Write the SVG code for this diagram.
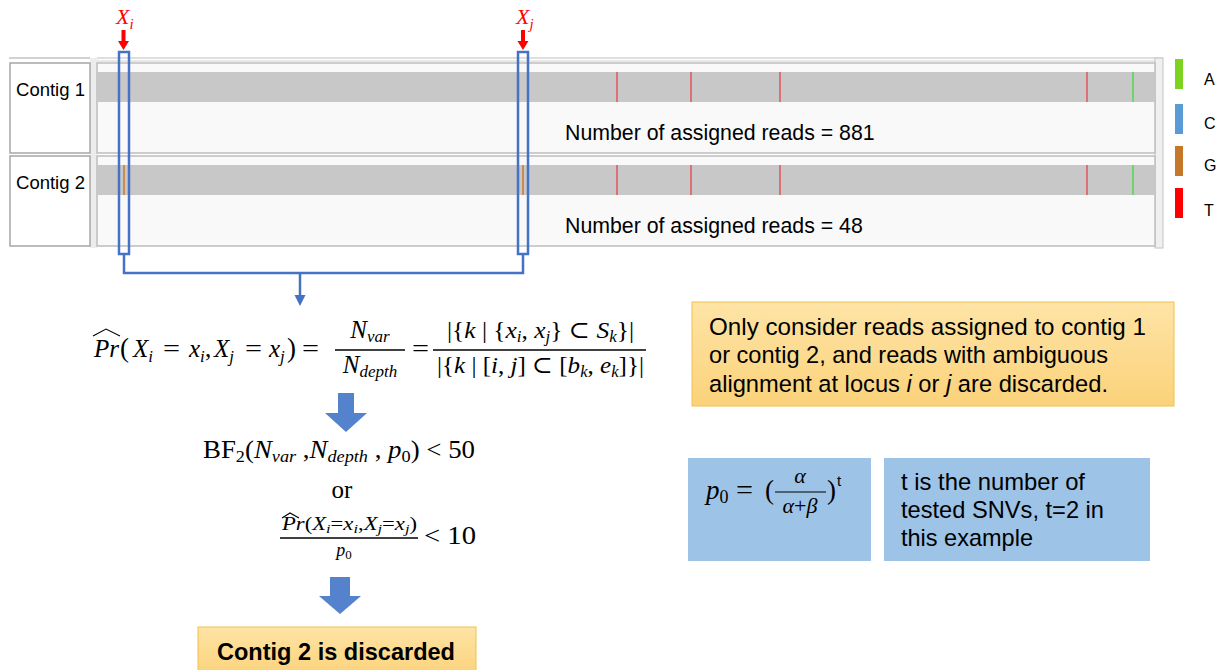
<svg xmlns="http://www.w3.org/2000/svg" width="1226" height="670" viewBox="0 0 1226 670">
  <style>
    .sans { font-family: "Liberation Sans", Arial, sans-serif; fill: #000; }
    .math { font-family: "Liberation Serif", "DejaVu Serif", serif; fill: #000; }
    .it { font-style: italic; }
    .frame { fill: #fff; stroke: #a6a6a6; stroke-width: 1.5; }
    .track { fill: #f9f9f9; stroke: #bdbdbd; stroke-width: 1.5; }
    .band { fill: #c8c8c8; }
    .snvT { stroke: #e8383d; stroke-width: 1.2; }
    .snvA { stroke: #33dd33; stroke-width: 1.2; }
    .snvG { stroke: #c8782a; stroke-width: 1.5; }
    .locus { fill: none; stroke: #4472c4; stroke-width: 2.5; }
    .bracket { fill: none; stroke: #4472c4; stroke-width: 2.5; }
    .blockarrow { fill: #5582cc; }
    .param { fill: #9dc3e6; }
    .bar { stroke: #000; stroke-width: 1.3; }
    .hat { fill: none; stroke: #000; stroke-width: 1.1; }
  </style>
  <defs>
    <linearGradient id="noteFill" x1="0" y1="0" x2="0" y2="1">
      <stop offset="0" stop-color="#fee4a6"/>
      <stop offset="1" stop-color="#fbd27a"/>
    </linearGradient>
  </defs>

  <rect width="1226" height="670" fill="#fff"/>

  <!-- genome browser panel -->
  <g id="browser-header">
    <line x1="9" y1="58" x2="90" y2="58" stroke="#a6a6a6" stroke-width="1.2"/>
    <line x1="97" y1="58" x2="1163" y2="58" stroke="#bdbdbd" stroke-width="1.2"/>
    <line x1="97" y1="61" x2="1163" y2="61" stroke="#d0d0d0" stroke-width="1"/>
    <rect x="90" y="58" width="7" height="190" fill="#ececec"/>
    <rect x="1155" y="58" width="8" height="190" fill="#f0f0f0" stroke="#c4c4c4" stroke-width="1"/>
  </g>

  <g id="contig1">
    <rect class="frame" x="10" y="63" width="80" height="90"/>
    <text class="sans" x="16" y="96" font-size="19" textLength="69" lengthAdjust="spacingAndGlyphs">Contig 1</text>
    <rect class="track" x="97" y="63" width="1058" height="90"/>
    <rect class="band" x="97" y="72" width="1058" height="30"/>
    <line class="snvT" x1="617" y1="72" x2="617" y2="102"/>
    <line class="snvT" x1="691" y1="72" x2="691" y2="102"/>
    <line class="snvT" x1="780" y1="72" x2="780" y2="102"/>
    <line class="snvT" x1="1087" y1="72" x2="1087" y2="102"/>
    <line class="snvA" x1="1133" y1="72" x2="1133" y2="102"/>
    <text class="sans" x="565" y="140" font-size="21.3">Number of assigned reads = 881</text>
  </g>

  <g id="contig2">
    <rect class="frame" x="10" y="156" width="80" height="90"/>
    <text class="sans" x="16" y="189" font-size="19" textLength="69" lengthAdjust="spacingAndGlyphs">Contig 2</text>
    <rect class="track" x="97" y="156" width="1058" height="90"/>
    <rect class="band" x="97" y="165" width="1058" height="30"/>
    <line class="snvG" x1="124" y1="165" x2="124" y2="195"/>
    <line class="snvG" x1="523" y1="165" x2="523" y2="195"/>
    <line class="snvT" x1="617" y1="165" x2="617" y2="195"/>
    <line class="snvT" x1="691" y1="165" x2="691" y2="195"/>
    <line class="snvT" x1="780" y1="165" x2="780" y2="195"/>
    <line class="snvT" x1="1087" y1="165" x2="1087" y2="195"/>
    <line class="snvA" x1="1133" y1="165" x2="1133" y2="195"/>
    <text class="sans" x="565" y="233" font-size="21.3">Number of assigned reads = 48</text>
  </g>

  <!-- base colour legend -->
  <g id="legend">
    <rect x="1175" y="59" width="8" height="30" fill="#7ed321"/>
    <rect x="1175" y="104" width="8" height="30" fill="#5b9bd5"/>
    <rect x="1175" y="146" width="8" height="30" fill="#c5782a"/>
    <rect x="1175" y="188" width="8" height="30" fill="#ff0000"/>
    <text class="sans" x="1204" y="85" font-size="16">A</text>
    <text class="sans" x="1204" y="129" font-size="16">C</text>
    <text class="sans" x="1204" y="171" font-size="16">G</text>
    <text class="sans" x="1204" y="216" font-size="16">T</text>
  </g>

  <!-- loci i and j -->
  <g id="locus-i">
    <text class="math it" x="116" y="24" font-size="22" style="fill:#ff0000">X<tspan font-size="15" dy="5">i</tspan></text>
    <rect x="121.5" y="30" width="4" height="12" fill="#ff0000"/>
    <polygon points="118,41 129,41 123.5,50" fill="#ff0000"/>
    <rect class="locus" x="119" y="52" width="10" height="202"/>
  </g>
  <g id="locus-j">
    <text class="math it" x="516" y="24" font-size="22" style="fill:#ff0000">X<tspan font-size="15" dy="5">j</tspan></text>
    <rect x="521" y="30" width="4" height="12" fill="#ff0000"/>
    <polygon points="517.5,41 528.5,41 523,50" fill="#ff0000"/>
    <rect class="locus" x="518" y="52" width="10" height="202"/>
  </g>

  <!-- connectors -->
  <g id="connectors">
    <polyline class="bracket" points="124,254 124,273 523,273 523,254"/>
    <line x1="300" y1="273" x2="300" y2="297" stroke="#4472c4" stroke-width="2.5"/>
    <polygon points="294.5,295 305.5,295 300,306" fill="#4472c4"/>
    <polygon class="blockarrow" points="338,393 354,393 354,413 367,413 346,432 325,413 338,413"/>
    <polygon class="blockarrow" points="330,577 350,577 350,596 361,596 340,614 319,596 330,596"/>
  </g>

  <!-- frequency estimate -->
  <g id="estimate">
    <path class="hat" d="M93,336 L106,329 L120,336"/>
    <text class="math it" x="94" y="357" font-size="25">Pr</text>
    <text class="math" x="120" y="357" font-size="27">(</text>
    <text class="math it" x="133" y="357" font-size="25">X<tspan font-size="17" dy="5">i</tspan></text>
    <text class="math" x="163" y="357" font-size="25" textLength="17" lengthAdjust="spacingAndGlyphs">=</text>
    <text class="math it" x="189" y="357" font-size="25">x<tspan font-size="17" dy="5">i</tspan></text>
    <text class="math" x="205" y="357" font-size="25">,</text>
    <text class="math it" x="214" y="357" font-size="25">X<tspan font-size="17" dy="5">j</tspan></text>
    <text class="math" x="245" y="357" font-size="25" textLength="17" lengthAdjust="spacingAndGlyphs">=</text>
    <text class="math it" x="269" y="357" font-size="25">x<tspan font-size="17" dy="5">j</tspan></text>
    <text class="math" x="287" y="357" font-size="27">)</text>
    <text class="math" x="302" y="357" font-size="25" textLength="17" lengthAdjust="spacingAndGlyphs">=</text>
    <text class="math" x="370" y="338" font-size="25" text-anchor="middle"><tspan font-style="italic">N</tspan><tspan font-style="italic" font-size="17" dy="4">var</tspan></text>
    <line class="bar" x1="335" y1="350" x2="405" y2="350"/>
    <text class="math" x="370" y="373" font-size="25" text-anchor="middle"><tspan font-style="italic">N</tspan><tspan font-style="italic" font-size="17" dy="4">depth</tspan></text>
    <text class="math" x="412" y="357" font-size="25" textLength="17" lengthAdjust="spacingAndGlyphs">=</text>
    <text class="math" x="447" y="338" font-size="24" textLength="187" lengthAdjust="spacingAndGlyphs">|{<tspan font-style="italic">k</tspan> | {<tspan font-style="italic">x</tspan><tspan font-style="italic" font-size="16" dy="4">i</tspan><tspan dy="-4">, </tspan><tspan font-style="italic">x</tspan><tspan font-style="italic" font-size="16" dy="4">j</tspan><tspan dy="-4">} ⊂ </tspan><tspan font-style="italic">S</tspan><tspan font-style="italic" font-size="16" dy="4">k</tspan><tspan dy="-4">}|</tspan></text>
    <line class="bar" x1="433" y1="350" x2="646" y2="350"/>
    <text class="math" x="437" y="373" font-size="24" textLength="207" lengthAdjust="spacingAndGlyphs">|{<tspan font-style="italic">k</tspan> | [<tspan font-style="italic">i</tspan>, <tspan font-style="italic">j</tspan>] ⊂ [<tspan font-style="italic">b</tspan><tspan font-style="italic" font-size="16" dy="4">k</tspan><tspan dy="-4">, </tspan><tspan font-style="italic">e</tspan><tspan font-style="italic" font-size="16" dy="4">k</tspan><tspan dy="-4">]}|</tspan></text>
  </g>

  <!-- discard criteria -->
  <g id="criteria">
    <text class="math" x="203" y="458" font-size="25" textLength="272" lengthAdjust="spacingAndGlyphs">BF<tspan font-size="17" dy="4">2</tspan><tspan dy="-4">(</tspan><tspan font-style="italic">N</tspan><tspan font-style="italic" font-size="17" dy="4">var</tspan><tspan dy="-4"> ,</tspan><tspan font-style="italic">N</tspan><tspan font-style="italic" font-size="17" dy="4">depth</tspan><tspan dy="-4"> , </tspan><tspan font-style="italic">p</tspan><tspan font-size="17" dy="4">0</tspan><tspan dy="-4">) &lt; 50</tspan></text>
    <text class="math" x="342" y="498" font-size="25" text-anchor="middle">or</text>
    <path class="hat" d="M282,518 L290,513 L299,518" stroke-width="0.9"/>
    <text class="math" x="282" y="530" font-size="18" textLength="135" lengthAdjust="spacingAndGlyphs"><tspan font-style="italic">Pr</tspan>(<tspan font-style="italic">X</tspan><tspan font-style="italic" font-size="13" dy="3">i</tspan><tspan dy="-3">=</tspan><tspan font-style="italic">x</tspan><tspan font-style="italic" font-size="13" dy="3">i</tspan><tspan dy="-3">,</tspan><tspan font-style="italic">X</tspan><tspan font-style="italic" font-size="13" dy="3">j</tspan><tspan dy="-3">=</tspan><tspan font-style="italic">x</tspan><tspan font-style="italic" font-size="13" dy="3">j</tspan><tspan dy="-3">)</tspan></text>
    <line class="bar" x1="280" y1="538" x2="418" y2="538" stroke-width="1.1"/>
    <text class="math" x="344" y="556" font-size="18" text-anchor="middle"><tspan font-style="italic">p</tspan><tspan font-size="13" dy="3">0</tspan></text>
    <text class="math" x="424" y="544" font-size="25" textLength="52" lengthAdjust="spacingAndGlyphs">&lt; 10</text>
  </g>

  <g id="result">
    <rect x="198" y="627" width="278" height="50" fill="url(#noteFill)" stroke="#f2c04a" stroke-width="1"/>
    <text class="sans" x="217" y="660" font-size="23.6" font-weight="bold" textLength="238" lengthAdjust="spacingAndGlyphs">Contig 2 is discarded</text>
  </g>

  <g id="read-filter-note">
    <rect x="692" y="302" width="482" height="104" fill="url(#noteFill)" stroke="#f2c04a" stroke-width="1"/>
    <text class="sans" x="709" y="335" font-size="24" textLength="437" lengthAdjust="spacingAndGlyphs">Only consider reads assigned to contig 1</text>
    <text class="sans" x="709" y="363" font-size="24" textLength="399" lengthAdjust="spacingAndGlyphs">or contig 2, and reads with ambiguous</text>
    <text class="sans" x="709" y="392" font-size="23.7">alignment at locus <tspan font-style="italic">i</tspan> or <tspan font-style="italic">j</tspan> are discarded.</text>
  </g>

  <g id="prior">
    <rect class="param" x="688" y="458" width="183" height="103"/>
    <text class="math" x="706" y="499" font-size="27"><tspan font-style="italic">p</tspan><tspan font-size="18" dy="4">0</tspan></text>
    <text class="math" x="736" y="499" font-size="27" textLength="17" lengthAdjust="spacingAndGlyphs">=</text>
    <text class="math" x="765" y="499" font-size="27">(</text>
    <text class="math it" x="800" y="483" font-size="22" text-anchor="middle">α</text>
    <line x1="775" y1="492" x2="826" y2="492" stroke="#000" stroke-width="1.2"/>
    <text class="math" x="800" y="513" font-size="22" text-anchor="middle"><tspan font-style="italic">α</tspan>+<tspan font-style="italic">β</tspan></text>
    <text class="math" x="827" y="499" font-size="27">)</text>
    <text class="sans" x="837" y="486" font-size="15">t</text>
  </g>

  <g id="prior-note">
    <rect class="param" x="884" y="458" width="266" height="103"/>
    <text class="sans" x="901" y="490" font-size="24" textLength="184" lengthAdjust="spacingAndGlyphs">t is the number of</text>
    <text class="sans" x="901" y="518" font-size="24" textLength="203" lengthAdjust="spacingAndGlyphs">tested SNVs, t=2 in</text>
    <text class="sans" x="901" y="546" font-size="24" textLength="132" lengthAdjust="spacingAndGlyphs">this example</text>
  </g>
</svg>
